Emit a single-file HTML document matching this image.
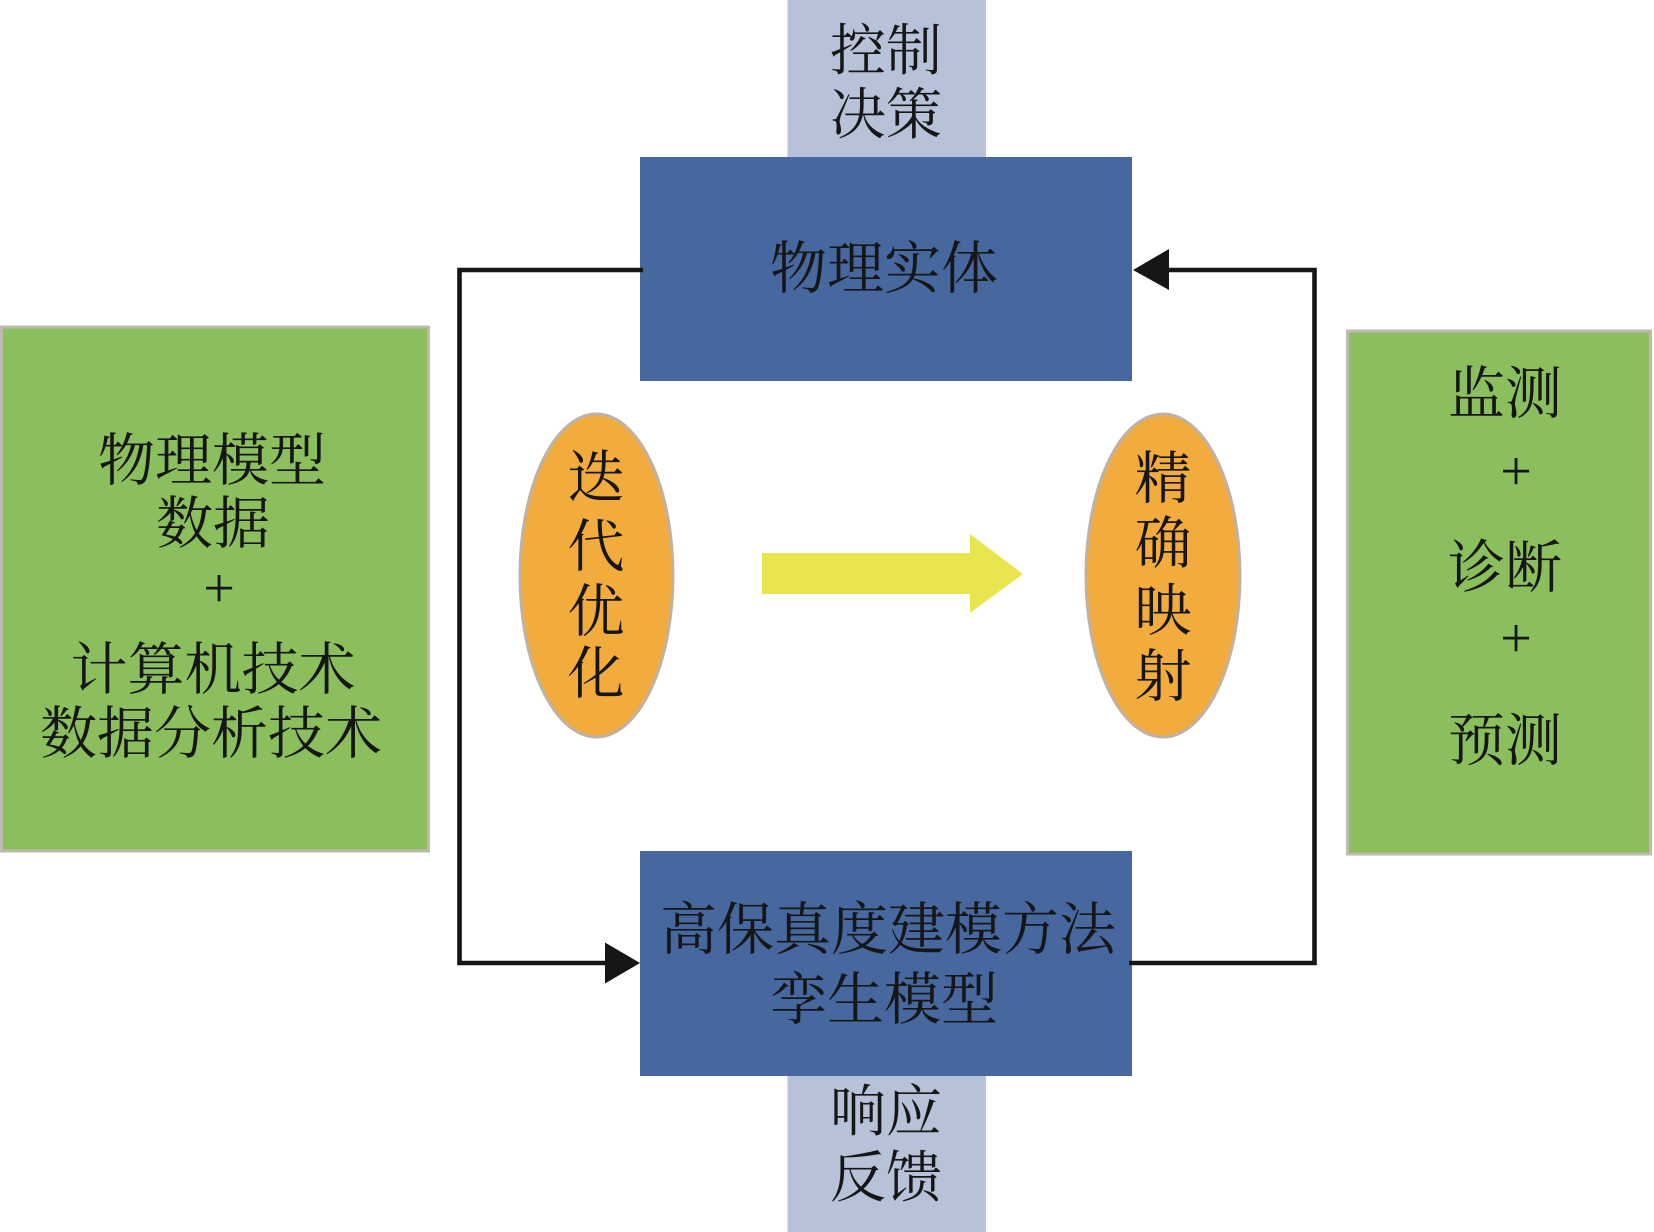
<!DOCTYPE html>
<html>
<head>
<meta charset="utf-8">
<style>
html,body{margin:0;padding:0;background:#fff;}
svg{display:block;}
text{font-family:"Liberation Serif","Noto Serif CJK SC","Noto Sans CJK SC",serif;fill:#161616;}
.p{font-family:"Liberation Serif",serif;}
</style>
</head>
<body>
<svg width="1654" height="1232" viewBox="0 0 1654 1232" xmlns="http://www.w3.org/2000/svg">
  <rect x="0" y="0" width="1654" height="1232" fill="#ffffff"/>

  <!-- top light blue -->
  <rect x="787.5" y="0" width="198.5" height="158" fill="#b7c1d8"/>
  <!-- bottom light blue -->
  <rect x="787.5" y="1075" width="198.5" height="157" fill="#b7c1d8"/>

  <!-- blue boxes -->
  <rect x="640" y="157" width="492" height="224" fill="#46689e"/>
  <rect x="640" y="851" width="492" height="225" fill="#46689e"/>

  <!-- green boxes -->
  <rect x="1.5" y="327" width="427" height="524" fill="#8bbe5c" stroke="#bfbab0" stroke-width="3"/>
  <rect x="1347.5" y="331" width="303" height="523" fill="#8bbe5c" stroke="#bfbab0" stroke-width="3"/>

  <!-- ellipses -->
  <ellipse cx="596.5" cy="575.5" rx="76.5" ry="161.5" fill="#f2ac3e" stroke="#bfb2a4" stroke-width="3"/>
  <ellipse cx="1163" cy="575.5" rx="77" ry="161.5" fill="#f2ac3e" stroke="#bfb2a4" stroke-width="3"/>

  <!-- yellow arrow -->
  <polygon points="762,553 970,553 970,534 1023,574 970,613 970,594 762,594" fill="#e9e54f"/>

  <!-- connectors -->
  <polyline points="643,270 459.5,270 459.5,963 608,963" fill="none" stroke="#161616" stroke-width="4.6"/>
  <polygon points="640,963 605,942.5 605,983.5" fill="#161616"/>
  <polyline points="1129,963 1314.5,963 1314.5,270 1166,270" fill="none" stroke="#161616" stroke-width="4.6"/>
  <polygon points="1133,270 1169,249 1169,290" fill="#161616"/>

  <!-- top labels -->
  <text x="886" y="70" font-size="56" text-anchor="middle">控制</text>
  <text x="886" y="134" font-size="56" text-anchor="middle">决策</text>
  <text x="884" y="288" font-size="57" text-anchor="middle">物理实体</text>

  <!-- bottom labels -->
  <text x="888" y="949" font-size="57" text-anchor="middle">高保真度建模方法</text>
  <text x="884" y="1019" font-size="57" text-anchor="middle">孪生模型</text>
  <text x="886" y="1131" font-size="56" text-anchor="middle">响应</text>
  <text x="886" y="1197" font-size="56" text-anchor="middle">反馈</text>

  <!-- left green text -->
  <text x="212" y="480" font-size="57" text-anchor="middle">物理模型</text>
  <text x="213" y="543" font-size="57" text-anchor="middle">数据</text>
  <text class="p" x="219" y="607" font-size="56" text-anchor="middle">+</text>
  <text x="213" y="689" font-size="57" text-anchor="middle">计算机技术</text>
  <text x="211" y="753" font-size="57" text-anchor="middle">数据分析技术</text>

  <!-- right green text -->
  <text x="1505" y="413" font-size="57" text-anchor="middle">监测</text>
  <text class="p" x="1516" y="490" font-size="56" text-anchor="middle">+</text>
  <text x="1505" y="587" font-size="57" text-anchor="middle">诊断</text>
  <text class="p" x="1516" y="657" font-size="56" text-anchor="middle">+</text>
  <text x="1505" y="760" font-size="57" text-anchor="middle">预测</text>

  <!-- ellipse text left -->
  <text x="596" y="497" font-size="57" text-anchor="middle">迭</text>
  <text x="596" y="566" font-size="57" text-anchor="middle">代</text>
  <text x="596" y="631" font-size="57" text-anchor="middle">优</text>
  <text x="596" y="693" font-size="57" text-anchor="middle">化</text>

  <!-- ellipse text right -->
  <text x="1163" y="498" font-size="57" text-anchor="middle">精</text>
  <text x="1163" y="563" font-size="57" text-anchor="middle">确</text>
  <text x="1163" y="630" font-size="57" text-anchor="middle">映</text>
  <text x="1163" y="696" font-size="57" text-anchor="middle">射</text>
</svg>
</body>
</html>
